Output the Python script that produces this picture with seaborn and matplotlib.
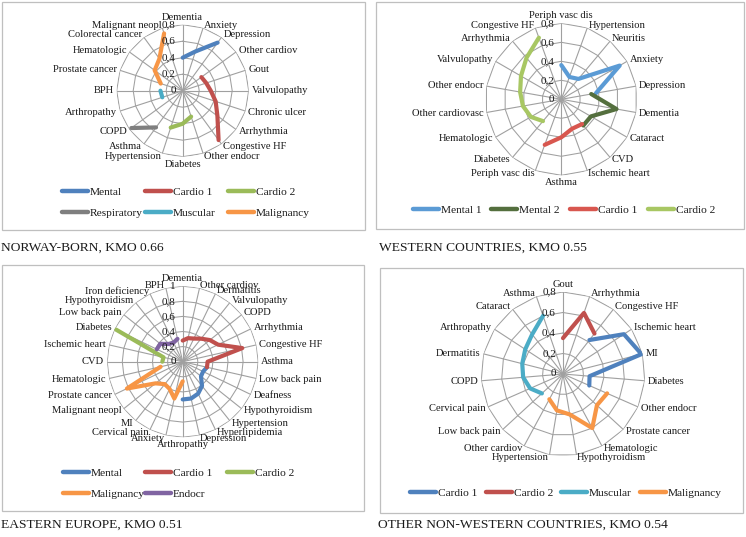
import numpy as np
import pandas as pd
import matplotlib.pyplot as plt
import seaborn as sns
from matplotlib.lines import Line2D
from matplotlib.patches import Rectangle
from matplotlib.transforms import offset_copy

N = None

# --- NORWAY-BORN ---
norway_cats = ['Dementia', 'Anxiety', 'Depression', 'Other cardiov', 'Gout',
               'Valvulopathy', 'Chronic ulcer', 'Arrhythmia', 'Congestive HF', 'Other endocr',
               'Diabetes', 'Hypertension', 'Asthma', 'COPD', 'Arthropathy',
               'BPH', 'Prostate cancer', 'Hematologic', 'Colorectal cancer', 'Malignant neopl']
norway_mental = [0.40, 0.50, 0.72, N, N, N, N, N, N, N,
                 N, N, N, N, N, N, N, N, N, N]
norway_cardio1 = [N, N, N, 0.28, 0.30, 0.34, 0.42, 0.52, 0.74, N,
                  N, N, N, N, N, N, N, N, N, N]
norway_cardio2 = [N, N, N, N, N, N, N, N, N, 0.33,
                  0.40, 0.47, N, N, N, N, N, N, N, N]
norway_resp = [N, N, N, N, N, N, N, N, N, N,
               N, N, 0.55, 0.77, N, N, N, N, N, N]
norway_muscular = [N, N, N, N, N, N, N, N, N, N,
                   N, N, N, N, 0.26, 0.27, N, N, N, N]
norway_malignancy = [N, N, N, N, N, N, N, N, N, N,
                     N, N, N, N, N, N, 0.28, 0.42, 0.48, 0.73]

# --- WESTERN COUNTRIES ---
west_cats = ['Periph vasc dis', 'Hypertension', 'Neuritis', 'Anxiety', 'Depression',
             'Dementia', 'Cataract', 'CVD', 'Ischemic heart', 'Asthma',
             'Periph vasc dis', 'Diabetes', 'Hematologic', 'Other cardiovasc', 'Other endocr',
             'Valvulopathy', 'Arrhythmia', 'Congestive HF']
west_mental1 = [0.36, 0.25, 0.28, 0.71, 0.37, N, N, N, N,
                N, N, N, N, N, N, N, N, N]
west_mental2 = [N, N, N, N, 0.32, 0.59, 0.36, 0.36, N,
                N, N, N, N, N, N, N, N, N]
west_cardio1 = [N, N, N, N, N, N, N, 0.34, 0.33,
                0.40, 0.51, N, N, N, N, N, N, N]
west_cardio2 = [N, N, N, N, N, N, N, N, N,
                N, N, 0.30, 0.37, 0.41, 0.44, 0.49, 0.57, 0.69]

# --- EASTERN EUROPE ---
east_cats = ['Dementia', 'Other cardiov', 'Dermatitis', 'Valvulopathy', 'COPD',
             'Arrhythmia', 'Congestive HF', 'Asthma', 'Low back pain', 'Deafness',
             'Hypothyroidism', 'Hypertension', 'Hyperlipidemia', 'Depression',
             'Arthropathy', 'Anxiety', 'Cervical pain', 'MI', 'Malignant neopl',
             'Prostate cancer', 'Hematologic', 'CVD', 'Ischemic heart', 'Diabetes',
             'Low back pain', 'Hypothyroidism', 'Iron deficiency', 'BPH']
east_mental = [N, N, N, N, N, N, N, N, 0.33, 0.30, 0.31, 0.41, 0.47, 0.50,
               0.50, N, N, N, N, N, N, N, N, N, N, N, N, N]
east_cardio1 = [0.28, 0.32, 0.34, 0.39, 0.46, 0.52, 0.81, 0.33, 0.33, N, N, N, N, N,
                N, N, N, N, N, N, N, N, N, N, N, N, N, N]
east_cardio2 = [N, N, N, N, N, N, N, N, N, N, N, N, N, N,
                N, N, N, N, N, N, N, 0.27, 0.26, 0.98, N, N, N, N]
east_malignancy = [N, N, N, N, N, N, N, N, N, N, N, N, N, N,
                   0.26, 0.50, 0.40, 0.38, 0.46, 0.82, 0.30, N, N, N, N, N, N, N]
east_endocr = [N, N, N, N, N, N, N, N, N, N, N, N, N, N,
               N, N, N, N, N, N, N, N, N, 0.38, 0.38, 0.30, 0.28, 0.31]

# --- OTHER NON-WESTERN COUNTRIES ---
other_cats = ['Gout', 'Arrhythmia', 'Congestive HF', 'Ischemic heart', 'MI',
              'Diabetes', 'Other endocr', 'Prostate cancer', 'Hematologic', 'Hypothyroidism',
              'Hypertension', 'Other cardiov', 'Low back pain', 'Cervical pain', 'COPD',
              'Dermatitis', 'Arthropathy', 'Cataract', 'Asthma']
other_cardio1 = [N, N, 0.42, 0.71, 0.79, 0.26, 0.28, N, N, N,
                 N, N, N, N, N, N, N, N, N]
other_cardio2 = [0.35, 0.63, 0.50, N, N, N, N, N, N, N,
                 N, N, N, N, N, N, N, N, N]
other_muscular = [N, N, N, N, N, N, N, N, N, N,
                  N, N, 0.28, 0.35, 0.39, 0.41, 0.44, 0.49, 0.60]
other_malignancy = [N, N, N, N, N, N, 0.47, 0.45, 0.60, 0.40,
                    0.36, 0.28, N, N, N, N, N, N, N]

BLUE, RED, GREEN, PURPLE = '#4F81BD', '#C0504D', '#9BBB59', '#8064A2'
AQUA, ORANGE, GRAY = '#4BACC6', '#F79646', '#7F7F7F'
GRID = '#A0A0A0'
TXT = '#1a1a1a'

sns.set_theme(style='white')
plt.rcParams['font.family'] = ['Liberation Serif', 'DejaVu Serif']

W, H = 746, 537
fig = plt.figure(figsize=(W / 100, H / 100), dpi=100)


def radar(cx, cy, R, rmax, cats, series, colors):
    ax = fig.add_axes([(cx - R) / W, 1 - (cy + R) / H, 2 * R / W, 2 * R / H],
                      projection='polar')
    n = len(cats)
    theta = np.arange(n) * 2 * np.pi / n
    ax.set_theta_zero_location('N')
    ax.set_theta_direction(-1)
    ax.patch.set_alpha(0)
    ax.spines['polar'].set_visible(False)

    # polygon rings like excel
    closed = np.append(theta, theta[0])
    for r in np.arange(0.2, rmax + 0.01, 0.2):
        ax.plot(closed, [r] * (n + 1), color=GRID, lw=0.75, zorder=1)

    for vals, c in zip(series, colors):
        df = pd.DataFrame({'theta': theta, 'value': vals}).dropna()
        sns.lineplot(data=df, x='theta', y='value', ax=ax, color=c, lw=3.0,
                     sort=False, legend=False, zorder=3,
                     solid_capstyle='round', solid_joinstyle='round')

    ax.set_ylim(0, rmax)
    ax.set_xticks(theta)
    ax.set_xticklabels([])
    ax.set_yticks([])
    ax.xaxis.grid(True, color=GRID, lw=0.8)
    ax.set_xlabel('')
    ax.set_ylabel('')

    # value labels along the vertical axis
    tr = offset_copy(ax.transData, fig=fig, x=-7, y=0, units='dots')
    for r in np.arange(0, rmax + 0.01, 0.2):
        s = '0' if r < 0.01 else ('1' if abs(r - 1) < 0.01 else f'{r:.1f}'.replace('.', ','))
        ax.text(0, r, s, transform=tr, ha='right', va='center', fontsize=8,
                color=TXT, clip_on=False, zorder=4)

    # category labels
    for t, name in zip(theta, cats):
        s, c = np.sin(t), np.cos(t)
        if abs(s) < 0.02:
            ha, va = 'center', ('bottom' if c > 0 else 'top')
        else:
            ha, va = ('left' if s > 0 else 'right'), 'center'
        tr = offset_copy(ax.transData, fig=fig, x=3 * s, y=3 * c, units='dots')
        ax.text(t, rmax, name, transform=tr, ha=ha, va=va, fontsize=7.6,
                color=TXT, clip_on=False)
    return ax


def legend_entries(names, colors, xs, ys):
    for i, (name, c) in enumerate(zip(names, colors)):
        x = xs[i % len(xs)]
        y = ys[i // len(xs)]
        h = Line2D([0], [0], color=c, lw=3.2, solid_capstyle='round')
        fig.legend([h], [name], loc='center left', bbox_to_anchor=(x / W, 1 - y / H),
                   frameon=False, borderpad=0, borderaxespad=0, handlelength=2.3,
                   handletextpad=0.15, fontsize=8.2, labelcolor=TXT)


def box(x0, y0, x1, y1):
    fig.add_artist(Rectangle((x0 / W, 1 - y1 / H), (x1 - x0) / W, (y1 - y0) / H,
                             transform=fig.transFigure, fill=False, ec='#BFBFBF', lw=0.9))


# panel 1
box(2, 2, 365, 230)
radar(182.7, 90.7, 66, 0.8, norway_cats,
      [norway_mental, norway_cardio1, norway_cardio2, norway_resp, norway_muscular, norway_malignancy],
      [BLUE, RED, GREEN, GRAY, AQUA, ORANGE])
legend_entries(['Mental', 'Cardio 1', 'Cardio 2', 'Respiratory', 'Muscular', 'Malignancy'],
               [BLUE, RED, GREEN, GRAY, AQUA, ORANGE], [62, 145, 228], [192, 213])
fig.text(1 / W, 1 - 248 / H, 'NORWAY-BORN, KMO 0.66', ha='left', va='center',
         fontsize=9.7, color=TXT)

# panel 2
W_BLUE, W_DKGREEN, W_RED, W_LTGREEN = '#5B9BD5', '#546F3E', '#D8574F', '#A8C763'
box(376, 2, 744, 229)
radar(561.3, 99.3, 76, 0.8, west_cats,
      [west_mental1, west_mental2, west_cardio1, west_cardio2],
      [W_BLUE, W_DKGREEN, W_RED, W_LTGREEN])
legend_entries(['Mental 1', 'Mental 2', 'Cardio 1', 'Cardio 2'],
               [W_BLUE, W_DKGREEN, W_RED, W_LTGREEN], [413, 491, 570, 648], [210])
fig.text(379 / W, 1 - 248 / H, 'WESTERN COUNTRIES, KMO 0.55', ha='left', va='center',
         fontsize=9.7, color=TXT)

# panel 3
box(2, 265, 364, 511)
radar(182.7, 361.7, 75.5, 1.0, east_cats,
      [east_mental, east_cardio1, east_cardio2, east_malignancy, east_endocr],
      [BLUE, RED, GREEN, ORANGE, PURPLE])
legend_entries(['Mental', 'Cardio 1', 'Cardio 2', 'Malignancy', 'Endocr'],
               [BLUE, RED, GREEN, ORANGE, PURPLE], [63, 145, 227], [473, 494])
fig.text(1 / W, 1 - 525 / H, 'EASTERN EUROPE, KMO 0.51', ha='left', va='center',
         fontsize=9.7, color=TXT)

# panel 4
box(380, 268, 743, 513)
radar(563, 374, 82, 0.8, other_cats,
      [other_cardio1, other_cardio2, other_muscular, other_malignancy],
      [BLUE, RED, AQUA, ORANGE])
legend_entries(['Cardio 1', 'Cardio 2', 'Muscular', 'Malignancy'],
               [BLUE, RED, AQUA, ORANGE], [410, 486, 561, 640], [493])
fig.text(378 / W, 1 - 525 / H, 'OTHER NON-WESTERN COUNTRIES, KMO 0.54', ha='left',
         va='center', fontsize=9.7, color=TXT)

fig.savefig('out.png', dpi=100)
